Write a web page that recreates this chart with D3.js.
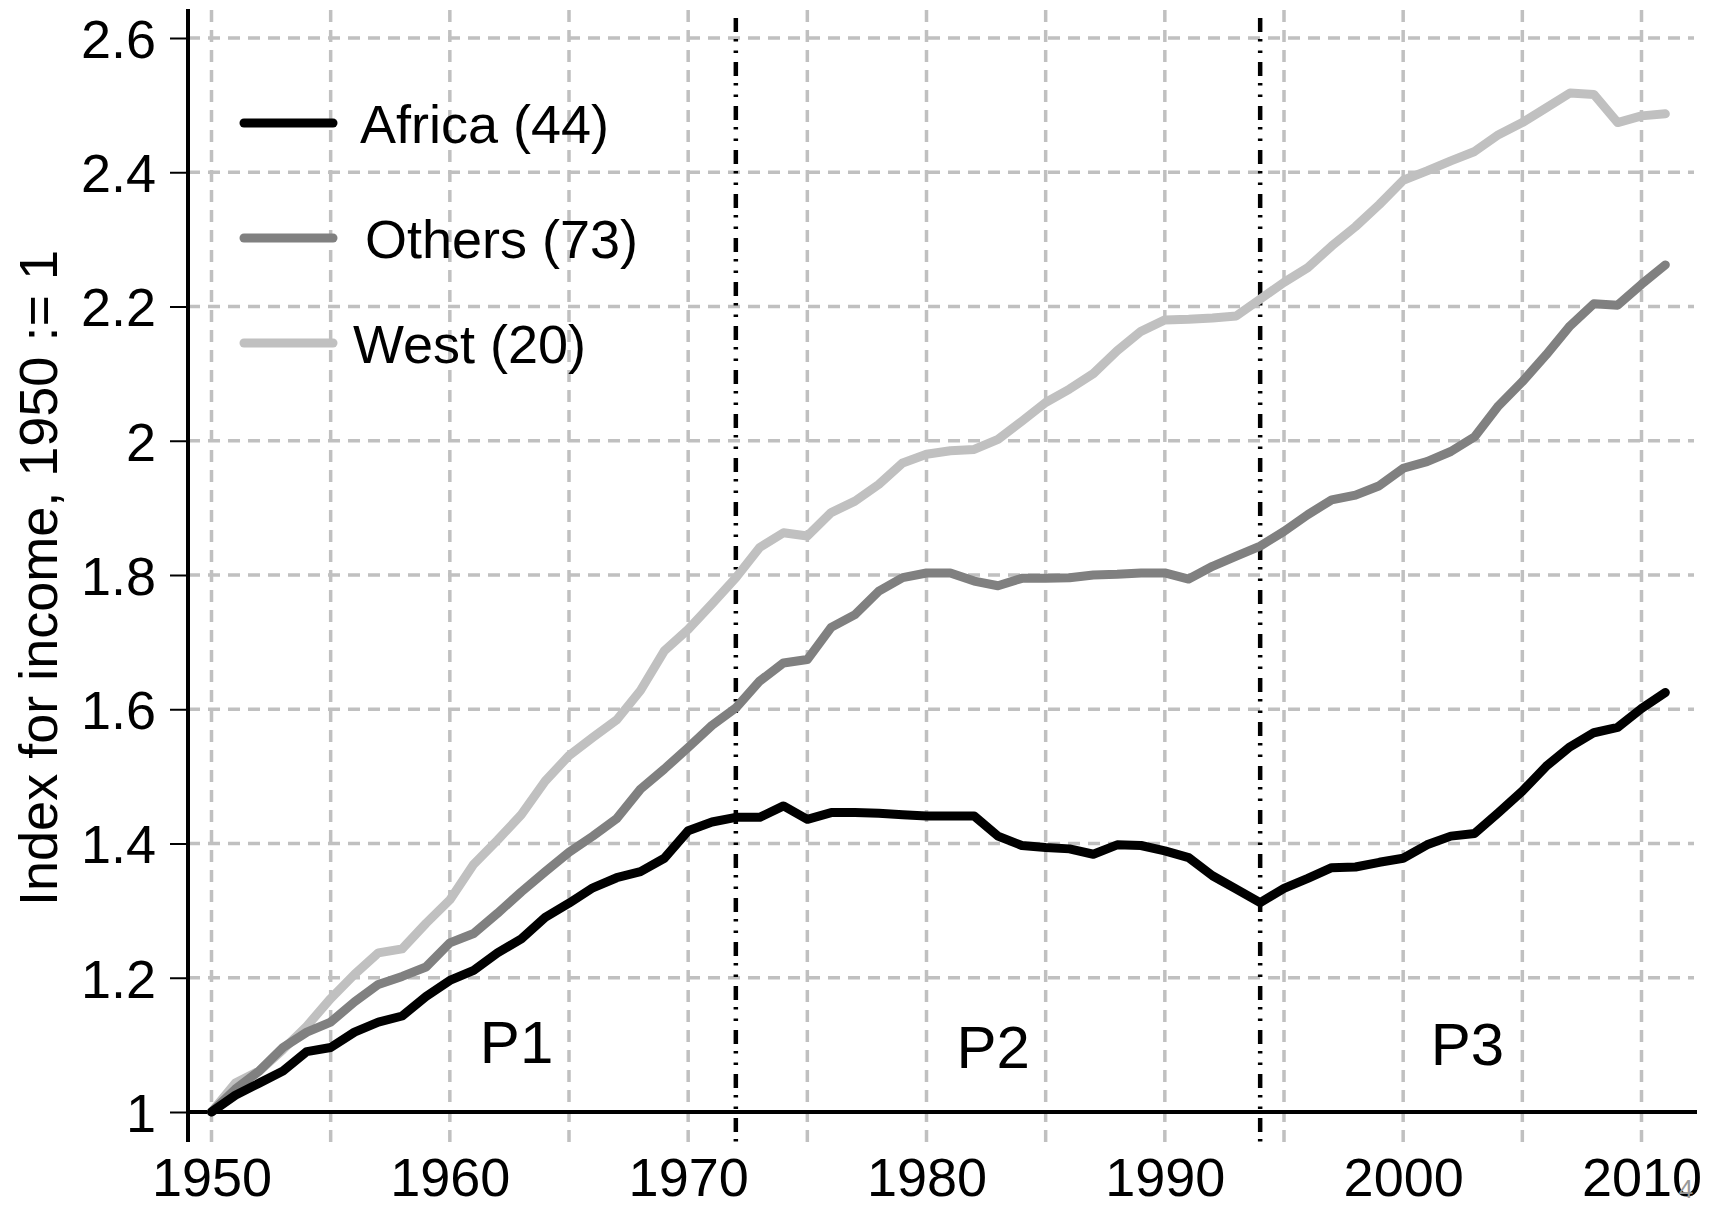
<html>
  <head>
    <meta charset="utf-8">
    <title>income index</title>
    <style>
      body { margin: 0; background: #fff; }
      text { font-family: "Liberation Sans", Arial, sans-serif; }
    </style>
  </head>
  <body>
    <script src="https://cdn.jsdelivr.net/npm/d3@7"></script>
    <script>

// data
var years = [1950,1951,1952,1953,1954,1955,1956,1957,1958,1959,
             1960,1961,1962,1963,1964,1965,1966,1967,1968,1969,
             1970,1971,1972,1973,1974,1975,1976,1977,1978,1979,
             1980,1981,1982,1983,1984,1985,1986,1987,1988,1989,
             1990,1991,1992,1993,1994,1995,1996,1997,1998,1999,
             2000,2001,2002,2003,2004,2005,2006,2007,2008,2009,
             2010,2011];

var africa = [1.000,1.025,1.043,1.061,1.090,1.096,1.119,1.134,1.143,1.172,
              1.196,1.211,1.237,1.258,1.290,1.311,1.334,1.349,1.358,1.378,
              1.419,1.432,1.439,1.439,1.456,1.436,1.446,1.446,1.445,1.443,
              1.441,1.441,1.441,1.411,1.397,1.394,1.392,1.384,1.398,1.397,
              1.389,1.379,1.352,1.332,1.312,1.333,1.348,1.364,1.365,1.372,
              1.378,1.398,1.411,1.415,1.446,1.478,1.515,1.544,1.565,1.573,
              1.601,1.625];

var others = [1.000,1.034,1.061,1.096,1.119,1.134,1.164,1.190,1.202,1.216,
              1.252,1.266,1.296,1.328,1.358,1.387,1.411,1.437,1.481,1.511,
              1.543,1.576,1.602,1.642,1.669,1.674,1.722,1.741,1.776,1.796,
              1.803,1.803,1.791,1.784,1.795,1.795,1.796,1.800,1.801,1.803,
              1.803,1.794,1.813,1.828,1.843,1.865,1.890,1.912,1.919,1.933,
              1.959,1.969,1.984,2.006,2.052,2.088,2.128,2.171,2.204,2.202,
              2.233,2.262];

var west = [1.000,1.043,1.061,1.093,1.128,1.169,1.205,1.237,1.243,1.281,
            1.316,1.369,1.405,1.443,1.493,1.531,1.558,1.584,1.628,1.687,
            1.719,1.757,1.796,1.841,1.863,1.858,1.893,1.910,1.935,1.967,
            1.980,1.985,1.987,2.002,2.029,2.057,2.077,2.100,2.134,2.163,
            2.180,2.181,2.183,2.186,2.211,2.236,2.258,2.290,2.319,2.352,
            2.388,2.402,2.417,2.431,2.456,2.474,2.496,2.518,2.516,2.474,
            2.484,2.487];

var seriesNames = ["Africa (44)", "Others (73)", "West (20)"];
var seriesColors = ["#000000", "#808080", "#c0c0c0"];
var xTicks = [1950, 1960, 1970, 1980, 1990, 2000, 2010];
var xGrid = [1950,1955,1960,1965,1970,1975,1980,1985,1990,1995,2000,2005,2010];
var yTicks = [1, 1.2, 1.4, 1.6, 1.8, 2, 2.2, 2.4, 2.6];
var breakYears = [1972, 1994];
var periods = [{label: "P1", year: 1962.8, v: 1.0735},
               {label: "P2", year: 1982.8, v: 1.066},
               {label: "P3", year: 2002.7, v: 1.070}];

var W = 1719, H = 1205;

var x = d3.scaleLinear().domain([1950, 2010]).range([211.5, 1641.5]);
var y = d3.scaleLinear().domain([1, 2.6]).range([1112, 38]);

var svg = d3.select("body").append("svg")
    .attr("width", W)
    .attr("height", H);

// grid
svg.append("g").selectAll("line")
  .data(yTicks.filter(function(d){ return d > 1; }))
  .enter().append("line")
    .attr("x1", 188).attr("x2", 1694)
    .attr("y1", function(d){ return y(d); })
    .attr("y2", function(d){ return y(d); })
    .attr("stroke", "#c0c0c0")
    .attr("stroke-width", 3.5)
    .attr("stroke-dasharray", "12,8");

svg.append("g").selectAll("line")
  .data(xGrid)
  .enter().append("line")
    .attr("x1", function(d){ return x(d); })
    .attr("x2", function(d){ return x(d); })
    .attr("y1", 10).attr("y2", 1142)
    .attr("stroke", "#c0c0c0")
    .attr("stroke-width", 3.5)
    .attr("stroke-dasharray", "12,8");

// period breaks
svg.append("g").selectAll("line")
  .data(breakYears)
  .enter().append("line")
    .attr("x1", function(d){ return x(d); })
    .attr("x2", function(d){ return x(d); })
    .attr("y1", 18).attr("y2", 1142)
    .attr("stroke", "#000")
    .attr("stroke-width", 4.5)
    .attr("stroke-dasharray", "14,7,2.5,9,2.5,9");

// axes
var yAxis = d3.axisLeft(y).tickValues(yTicks).tickSize(18).tickPadding(14)
    .tickFormat(function(d){ return d3.format("~g")(d); });

var gy = svg.append("g")
    .attr("transform", "translate(188,0)")
    .call(yAxis);
gy.select(".domain").remove();
gy.selectAll(".tick line").attr("stroke", "#000").attr("stroke-width", 2);
gy.selectAll(".tick text")
    .attr("font-size", 54)
    .attr("font-family", "'Liberation Sans', Arial, sans-serif")
    .attr("fill", "#000")
    .attr("dy", "0.36em");

var xAxis = d3.axisBottom(x).tickValues(xTicks).tickSize(0).tickPadding(0)
    .tickFormat(d3.format("d"));
var gx = svg.append("g")
    .attr("transform", "translate(0,1112)")
    .call(xAxis);
gx.select(".domain").remove();
gx.selectAll(".tick text")
    .attr("font-size", 54)
    .attr("font-family", "'Liberation Sans', Arial, sans-serif")
    .attr("fill", "#000")
    .attr("y", 84)
    .attr("dy", 0);

svg.append("line")
    .attr("x1", 188).attr("x2", 188).attr("y1", 9).attr("y2", 1142)
    .attr("stroke", "#000").attr("stroke-width", 4);
svg.append("line")
    .attr("x1", 186).attr("x2", 1697).attr("y1", 1112).attr("y2", 1112)
    .attr("stroke", "#000").attr("stroke-width", 4);

// series
var line = d3.line()
    .x(function(d){ return x(d[0]); })
    .y(function(d){ return y(d[1]); });

var allSeries = [africa, others, west];
allSeries.slice().reverse().forEach(function(vals, i) {
  var k = allSeries.length - 1 - i;
  svg.append("path")
    .datum(years.map(function(yr, j){ return [yr, vals[j]]; }))
    .attr("fill", "none")
    .attr("stroke", seriesColors[k])
    .attr("stroke-width", 9)
    .attr("stroke-linejoin", "round")
    .attr("stroke-linecap", "round")
    .attr("d", line);
});

// legend
var legY = [123, 238, 343];
var legTextX = [360, 365, 353];
var leg = svg.append("g");
seriesNames.forEach(function(name, i) {
  leg.append("line")
    .attr("x1", 244).attr("x2", 333)
    .attr("y1", legY[i]).attr("y2", legY[i])
    .attr("stroke", seriesColors[i])
    .attr("stroke-width", 9)
    .attr("stroke-linecap", "round");
  leg.append("text")
    .attr("x", legTextX[i])
    .attr("y", legY[i] + 20)
    .attr("font-size", 54)
    .attr("fill", "#000")
    .text(name);
});

// period labels
svg.append("g").selectAll("text")
  .data(periods)
  .enter().append("text")
    .attr("x", function(d){ return x(d.year); })
    .attr("y", function(d){ return y(d.v); })
    .attr("text-anchor", "middle")
    .attr("font-size", 60)
    .attr("fill", "#000")
    .text(function(d){ return d.label; });

// y title
svg.append("text")
    .attr("transform", "translate(57,578) rotate(-90)")
    .attr("text-anchor", "middle")
    .attr("font-size", 54)
    .attr("fill", "#000")
    .text("Index for income, 1950 := 1");

// page number
svg.append("text")
    .attr("x", 1686).attr("y", 1198)
    .attr("text-anchor", "middle")
    .attr("font-size", 26)
    .attr("fill", "#999")
    .text("4");

    </script>
  </body>
</html>
